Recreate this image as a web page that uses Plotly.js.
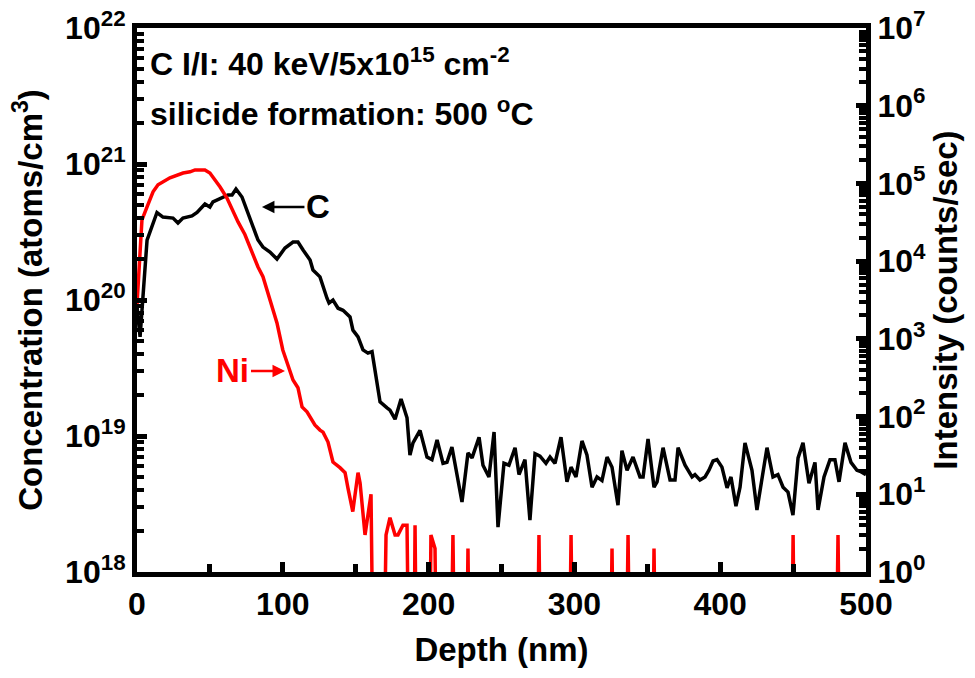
<!DOCTYPE html>
<html>
<head>
<meta charset="utf-8">
<script src="https://cdn.plot.ly/plotly-3.0.1.min.js"></script>
<style>html,body{margin:0;padding:0;background:#fff;}#chart{width:975px;height:678px;}</style>
</head>
<body>
<div id="chart"></div>
<script>
// ---- Data ----
// Carbon concentration (atoms/cm^3) vs depth (nm) — left axis
const cDepth = [0, 2.1, 6.9, 13.7, 17.8, 24.7, 28.1, 31.5, 37.7, 41.2,
  46.6, 50, 52.1, 58.3, 62.4, 65.2, 67.9, 72, 76.1, 79.6,
  83, 86.4, 91.2, 96, 101.5, 107, 110.4, 113.9, 118.7, 120.7,
  125.5, 130.3, 131.7, 134.4, 137.9, 141.3, 146.1, 148.1, 151.6, 155,
  158.4, 161.2, 164.6, 166.7, 171.5, 173.5, 177, 181.1, 185.2, 187.2,
  189.3, 194.1, 198.9, 202.3, 205.8, 209.9, 212.6, 216, 222.9, 227,
  229.8, 234.6, 237.3, 241.4, 244.9, 247.6, 251.7, 255.1, 259.3, 262,
  266.1, 269.5, 273, 276.4, 280.5, 283.3, 286.7, 290.8, 294.9, 297.7,
  301.1, 305.2, 308.6, 312.1, 315.5, 318.9, 322.4, 325.8, 329.9, 332.6,
  336.1, 340.2, 345, 347.1, 350.5, 354.6, 356.7, 360.8, 365.6, 369,
  371.1, 375.9, 380.7, 382.7, 386.1, 389.6, 392.3, 395.1, 397.8, 401.2,
  404.7, 407.4, 410.8, 413.6, 417, 421.8, 425.2, 428.7, 432.1, 436.2,
  439.6, 443.1, 446.5, 449.9, 453.4, 456.8, 460.9, 465, 467.1, 471.2,
  475.3, 478.7, 481.5, 485.6, 489.7, 493.8, 495.9, 500];
const cConc = [9e19, 5.35e19, 2.76e20, 4.4e20, 4.07e20, 4.0e20, 3.68e20, 4.0e20, 4.15e20, 4.4e20,
  5.08e20, 4.83e20, 5.26e20, 5.62e20, 5.92e20, 5.92e20, 6.55e20, 5.72e20, 4.4e20, 3.44e20,
  2.76e20, 2.45e20, 2.25e20, 2.0e20, 2.41e20, 2.67e20, 2.67e20, 2.33e20, 1.97e20, 1.66e20,
  1.48e20, 1.03e20, 9.5e19, 1.0e20, 8.7e19, 8.4e19, 7.5e19, 6.0e19, 5.35e19, 4.3e19,
  4.07e19, 4.17e19, 2.58e19, 1.78e19, 1.61e19, 1.55e19, 1.33e19, 1.87e19, 1.36e19, 7.25e18,
  8.9e18, 1.1e19, 7.0e18, 6.7e18, 9.35e18, 6.3e18, 6.4e18, 8.3e18, 3.27e18, 7.5e18,
  6.9e18, 9.8e18, 6.1e18, 5.0e18, 1.07e19, 2.14e18, 6.3e18, 6.1e18, 8.2e18, 5.2e18,
  6.7e18, 2.41e18, 7.4e18, 7.1e18, 6.3e18, 7.0e18, 6.3e18, 9.8e18, 4.6e18, 5.9e18,
  5.0e18, 9.2e18, 7.25e18, 4.2e18, 5.0e18, 4.7e18, 7.0e18, 5.9e18, 3.1e18, 7.8e18,
  5.6e18, 7.0e18, 5.0e18, 5.0e18, 9.5e18, 4.2e18, 4.6e18, 8.2e18, 4.75e18, 4.75e18,
  8.2e18, 6.1e18, 5.0e18, 5.2e18, 4.75e18, 5.0e18, 5.6e18, 6.55e18, 6.7e18, 5.9e18,
  4.15e18, 5.0e18, 3.05e18, 4.2e18, 8.9e18, 5.6e18, 2.86e18, 5.0e18, 8.2e18, 5.0e18,
  5.2e18, 4.2e18, 3.87e18, 2.62e18, 6.9e18, 8.9e18, 4.5e18, 6.4e18, 2.86e18, 5.0e18,
  6.7e18, 6.7e18, 4.6e18, 8.9e18, 6.4e18, 5.6e18, 5.5e18, 5.2e18];

// Nickel intensity (counts/sec) vs depth (nm) — right axis (0 = no counts)
const niDepth = [0, 3.4, 6.9, 11, 14.4, 22.6, 31.6, 36.4, 39.8, 46.6,
  50, 53.5, 57, 61.7, 65.8, 69.3, 74, 76, 79, 83,
  86.4, 91.2, 96, 100, 105, 107, 110.4, 113.2, 116.6, 122,
  125.5, 127.6, 131, 134.4, 139.2, 142.7, 144.7, 148, 151.6, 153,
  156.4, 160.5, 163, 168, 170.8, 173.5, 177, 179, 182.4, 185.2,
  187.5, 189.3, 190.7, 192.5, 200, 201.6, 204.4, 206.4, 214, 216.7,
  219, 225, 227, 229, 273.5, 275.7, 278, 295.5, 297.7, 300,
  323.5, 325.8, 328, 334.5, 336.8, 339, 352.5, 354.6, 357, 423,
  425, 427, 448, 450, 452, 478.5, 480.8, 483];
const niCounts = [2750, 34000, 50000, 78000, 96000, 118000, 136000, 141000, 149000, 149000,
  136000, 111000, 90000, 65000, 43000, 32000, 22000, 17700, 12700, 8400,
  6300, 3200, 1600, 720, 365, 295, 235, 133, 115, 78,
  67, 63, 47, 26, 22, 19, 12, 6, 19, 14,
  3, 10, 0, 0, 3, 5, 3, 3, 4, 4,
  0, 0, 4, 0, 0, 3, 2, 0, 0, 3,
  0, 0, 2, 0, 0, 3, 0, 0, 3, 0,
  0, 2, 0, 0, 3, 0, 0, 2, 0, 0,
  1, 0, 0, 3, 0, 0, 3, 0];

// Tick labels
const xTickVals = [0, 100, 200, 300, 400, 500];
const xTickText = ['0', '100', '200', '300', '400', '500'];
const leftTickVals = [1e18, 1e19, 1e20, 1e21, 1e22];
const leftTickText = ['10<sup>18</sup>', '10<sup>19</sup>', '10<sup>20</sup>', '10<sup>21</sup>', '10<sup>22</sup>'];
const rightTickVals = [1, 10, 100, 1e3, 1e4, 1e5, 1e6, 1e7];
const rightTickText = ['10<sup>0</sup>', '10<sup>1</sup>', '10<sup>2</sup>', '10<sup>3</sup>', '10<sup>4</sup>', '10<sup>5</sup>', '10<sup>6</sup>', '10<sup>7</sup>'];

// ---- Build chart ----
const FONT = 'Liberation Sans, Arial, sans-serif';
// zero counts cannot sit on a log scale: push them far below the axis (clipped)
const niPlot = niCounts.map(v => v === 0 ? 1e-3 : v);

const traces = [
  {x: cDepth, y: cConc, type: 'scatter', mode: 'lines', name: 'C',
   line: {color: '#000000', width: 3.5}, yaxis: 'y', cliponaxis: true},
  {x: niDepth, y: niPlot, type: 'scatter', mode: 'lines', name: 'Ni',
   line: {color: '#ff0000', width: 3.5}, yaxis: 'y2', cliponaxis: true}
];

const tickFont = {family: FONT, size: 32, color: '#000', weight: 'bold'};
const titleFont = {family: FONT, size: 33, color: '#000', weight: 'bold'};
const annFont = {family: FONT, size: 32, color: '#000', weight: 'bold'};

const layout = {
  width: 975, height: 678,
  margin: {l: 137, r: 109, t: 28, b: 106},
  paper_bgcolor: '#fff', plot_bgcolor: '#fff',
  showlegend: false,
  xaxis: {
    range: [0, 500], tickvals: xTickVals, ticktext: xTickText,
    showline: true, linecolor: '#000', linewidth: 5, mirror: true,
    ticks: 'inside', ticklen: 10, tickwidth: 5, tickcolor: '#000',
    minor: {ticks: 'inside', dtick: 50, ticklen: 8, tickwidth: 5, tickcolor: '#000'},
    showgrid: false, zeroline: false,
    tickfont: tickFont,
    title: {text: 'Depth (nm)', font: titleFont, standoff: 18}
  },
  yaxis: {
    type: 'log', range: [18, 22], tickvals: leftTickVals, ticktext: leftTickText,
    showline: true, linecolor: '#000', linewidth: 5, mirror: false,
    ticks: 'inside', ticklen: 10, tickwidth: 5, tickcolor: '#000',
    minor: {ticks: 'inside', dtick: 'D1', ticklen: 7, tickwidth: 4, tickcolor: '#000'},
    showgrid: false, zeroline: false,
    tickfont: tickFont,
    title: {text: 'Concentration (atoms/cm<sup>3</sup>)', font: titleFont, standoff: 14}
  },
  yaxis2: {
    type: 'log', range: [0, 7], tickvals: rightTickVals, ticktext: rightTickText,
    overlaying: 'y', side: 'right',
    showline: true, linecolor: '#000', linewidth: 5,
    ticks: 'inside', ticklen: 10, tickwidth: 5, tickcolor: '#000',
    minor: {ticks: 'inside', dtick: 'D1', ticklen: 7, tickwidth: 4, tickcolor: '#000'},
    showgrid: false, zeroline: false,
    tickfont: tickFont,
    title: {text: 'Intensity (counts/sec)', font: titleFont, standoff: 10}
  },
  annotations: [
    {xref: 'paper', yref: 'paper', x: 0.015, y: 0.9375, xanchor: 'left', yanchor: 'middle',
     text: 'C I/I: 40 keV/5x10<sup>15</sup> cm<sup>-2</sup>', showarrow: false, font: annFont},
    {xref: 'paper', yref: 'paper', x: 0.015, y: 0.846, xanchor: 'left', yanchor: 'middle',
     text: 'silicide formation: 500 <sup>o</sup>C', showarrow: false, font: annFont},
    {xref: 'x', yref: 'y', x: 85.7, y: 20.684, ax: 56, ay: 0,
     text: 'C', showarrow: true, arrowhead: 2, arrowsize: 1, arrowwidth: 2.5, arrowcolor: '#000',
     font: {family: FONT, size: 33, color: '#000', weight: 'bold'}},
    {xref: 'x', yref: 'y', x: 101.5, y: 19.478, ax: -52, ay: 0,
     text: 'Ni', showarrow: true, arrowhead: 2, arrowsize: 1, arrowwidth: 2.5, arrowcolor: '#ff0000',
     font: {family: FONT, size: 33, color: '#ff0000', weight: 'bold'}}
  ]
};

Plotly.newPlot('chart', traces, layout, {displayModeBar: false, staticPlot: true});
</script>
</body>
</html>
